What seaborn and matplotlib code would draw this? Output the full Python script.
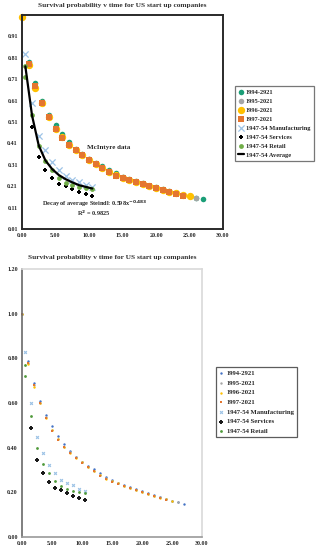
import numpy as np
import pandas as pd
import matplotlib
matplotlib.use("Agg")
import matplotlib.pyplot as plt
import seaborn as sns

# survival probabilities
years_1994 = list(range(0, 28))
s_1994 = [1.00, 0.79, 0.69, 0.61, 0.545, 0.495, 0.452, 0.416, 0.386, 0.360, 0.338, 0.318,
          0.305, 0.285, 0.270, 0.255, 0.244, 0.233, 0.223, 0.213, 0.204, 0.195, 0.186,
          0.178, 0.170, 0.163, 0.156, 0.148]
years_1995 = list(range(0, 27))
s_1995 = [1.00, 0.78, 0.68, 0.60, 0.536, 0.480, 0.440, 0.405, 0.379, 0.356, 0.335, 0.315,
          0.297, 0.278, 0.262, 0.251, 0.241, 0.230, 0.221, 0.212, 0.203, 0.194, 0.185,
          0.177, 0.169, 0.163, 0.156]
years_1996 = list(range(0, 26))
s_1996 = [1.00, 0.775, 0.67, 0.60, 0.532, 0.478, 0.438, 0.404, 0.378, 0.355, 0.334, 0.314,
          0.296, 0.277, 0.261, 0.250, 0.240, 0.229, 0.220, 0.211, 0.202, 0.193, 0.184,
          0.176, 0.168, 0.163]
years_1997 = list(range(0, 25))
s_1997 = [1.00, 0.78, 0.68, 0.60, 0.534, 0.476, 0.436, 0.402, 0.377, 0.354, 0.333, 0.313,
          0.294, 0.275, 0.259, 0.248, 0.239, 0.228, 0.219, 0.210, 0.201, 0.192, 0.183,
          0.175, 0.166]

half_years = [0.5, 1.5, 2.5, 3.5, 4.5, 5.5, 6.5, 7.5, 8.5, 9.5, 10.5]
manufacturing = [0.83, 0.60, 0.446, 0.378, 0.322, 0.287, 0.257, 0.240, 0.231, 0.216, 0.207]
services_years = [1.5, 2.5, 3.5, 4.5, 5.5, 6.5, 7.5, 8.5, 9.5, 10.5]
services = [0.488, 0.346, 0.287, 0.248, 0.221, 0.212, 0.197, 0.184, 0.175, 0.166]
retail_years = [0.5, 0.5, 1.5, 2.5, 3.5, 4.5, 5.5, 6.5, 7.5, 8.5, 9.5, 10.5]
retail = [0.77, 0.72, 0.541, 0.400, 0.328, 0.287, 0.250, 0.227, 0.216, 0.207, 0.201, 0.197]
average = [0.77, 0.54, 0.40, 0.33, 0.29, 0.262, 0.243, 0.228, 0.215, 0.207, 0.199]

sns.set_theme(style="white")
plt.rcParams["font.family"] = ["Liberation Serif", "DejaVu Serif"]
plt.rcParams["font.weight"] = "bold"

title = "Survival probability v time for US start up companies"


def df(x, y):
    return pd.DataFrame({"t": x, "p": y})


fig = plt.figure(figsize=(3.26, 5.5), dpi=100)

# ---------- top chart ----------
ax1 = fig.add_axes([22 / 326, 1 - 229 / 550, 201 / 326, 214 / 550])
kw = dict(x="t", y="p", ax=ax1, linewidth=0, legend=False, clip_on=False)
sns.scatterplot(data=df(years_1994, s_1994), color="#1a9e77", marker="o", s=16, label="1994-2921", **kw)
sns.scatterplot(data=df(years_1995, s_1995), color="#a5a5a5", marker="o", s=16, label="1995-2021", **kw)
sns.scatterplot(data=df(years_1996, s_1996), color="#ffc000", marker="o", s=28, label="1996-2021", **kw)
sns.scatterplot(data=df(years_1997[1:], s_1997[1:]), color="#e4762f", marker="s", s=18, label="1997-2021", **kw)
sns.scatterplot(data=df(half_years, manufacturing), color="#9dc3e6", marker="x", s=20,
                linewidths=0.9, label="1947-54 Manufacturing", x="t", y="p", ax=ax1, legend=False)
sns.scatterplot(data=df(services_years, services), color="black", marker="P", s=12, label="1947-54 Services", **kw)
sns.scatterplot(data=df(retail_years, retail), color="#70ad47", marker="o", s=12, label="1947-54 Retail", **kw)
sns.lineplot(data=df(half_years, average), x="t", y="p", ax=ax1, color="black", linewidth=1.6,
             label="1947-54 Average", legend=False)

ax1.set_xlim(0, 30)
ax1.set_ylim(0.01, 1.01)
ax1.set_xticks(np.arange(0, 31, 5))
ax1.set_yticks(np.arange(0.01, 0.92, 0.1))
ax1.set_xticklabels([f"{v:.2f}" for v in np.arange(0, 31, 5)])
ax1.set_yticklabels([f"{v:.2f}" for v in np.arange(0.01, 0.92, 0.1)])
ax1.tick_params(labelsize=4.3, length=0, pad=3)
ax1.set_xlabel("")
ax1.set_ylabel("")
for sp in ax1.spines.values():
    sp.set_color("#2a2a2a")
    sp.set_linewidth(1.4)
ax1.set_title(title, fontsize=5.3, fontweight="bold", pad=5.5, color="#333333")
ax1.text(12.9, 0.39, "McIntyre data", fontsize=5, fontweight="bold", ha="center", va="center")
ax1.text(10.8, 0.128, "Decay of average Steindl: 0.598x$^{\\mathbf{-0.483}}$", fontsize=4.5,
         fontweight="bold", ha="center", va="center")
ax1.text(10.7, 0.084, "R$^{\\mathbf{2}}$ = 0.9825", fontsize=4.5, fontweight="bold", ha="center", va="center")
for t in ax1.get_xticklabels() + ax1.get_yticklabels():
    t.set_fontweight("bold")
leg1 = ax1.legend(loc="upper left", bbox_to_anchor=(235 / 326, 1 - 86 / 550), bbox_transform=fig.transFigure,
                  fontsize=4.6, frameon=True, fancybox=False, borderpad=0.5, labelspacing=0.55,
                  handlelength=0.9, handletextpad=0.3, borderaxespad=0)
leg1.get_frame().set_edgecolor("#555555")
leg1.get_frame().set_linewidth(0.9)

# ---------- bottom chart ----------
ax2 = fig.add_axes([22 / 326, 1 - 537 / 550, 180 / 326, 268 / 550])
kw = dict(x="t", y="p", ax=ax2, linewidth=0, legend=False, clip_on=False)
sns.scatterplot(data=df(years_1994, s_1994), color="#4472c4", marker="o", s=3, label="1994-2921", **kw)
sns.scatterplot(data=df(years_1995, s_1995), color="#a5a5a5", marker="o", s=3, label="1995-2021", **kw)
sns.scatterplot(data=df(years_1996, s_1996), color="#ffc000", marker="o", s=3, label="1996-2021", **kw)
sns.scatterplot(data=df(years_1997, s_1997), color="#e4762f", marker="s", s=4, label="1997-2021", **kw)
sns.scatterplot(data=df(half_years, manufacturing), color="#9dc3e6", marker="X", s=7, label="1947-54 Manufacturing", **kw)
sns.scatterplot(data=df(services_years, services), color="#1a1a1a", marker="P", s=7, label="1947-54 Services", **kw)
sns.scatterplot(data=df(retail_years, retail), color="#4f9a3a", marker="o", s=4, label="1947-54 Retail", **kw)

ax2.set_xlim(0, 30)
ax2.set_ylim(0, 1.2)
ax2.set_xticks(np.arange(0, 31, 5))
ax2.set_yticks(np.arange(0, 1.21, 0.2))
ax2.set_xticklabels([f"{v:.2f}" for v in np.arange(0, 31, 5)])
ax2.set_yticklabels([f"{v:.2f}" for v in np.arange(0, 1.21, 0.2)])
ax2.tick_params(labelsize=4.3, length=0, pad=3)
ax2.set_xlabel("")
ax2.set_ylabel("")
ax2.spines["left"].set_color("#6a6a6a")
ax2.spines["bottom"].set_color("#9a9a9a")
ax2.spines["top"].set_color("#d9d9d9")
ax2.spines["right"].set_color("#d9d9d9")
for sp in ax2.spines.values():
    sp.set_linewidth(1.2)
ax2.set_title(title, fontsize=5.3, fontweight="bold", pad=7, color="#333333")
for t in ax2.get_xticklabels() + ax2.get_yticklabels():
    t.set_fontweight("bold")
leg2 = ax2.legend(loc="upper left", bbox_to_anchor=(216 / 326, 1 - 367 / 550), bbox_transform=fig.transFigure,
                  fontsize=4.8, frameon=True, fancybox=False, borderpad=0.5, labelspacing=0.6,
                  handlelength=0.5, handletextpad=0.6, borderaxespad=0, markerscale=1.0)
leg2.get_frame().set_edgecolor("#333333")
leg2.get_frame().set_linewidth(0.9)

fig.savefig("out.png", dpi=100)
